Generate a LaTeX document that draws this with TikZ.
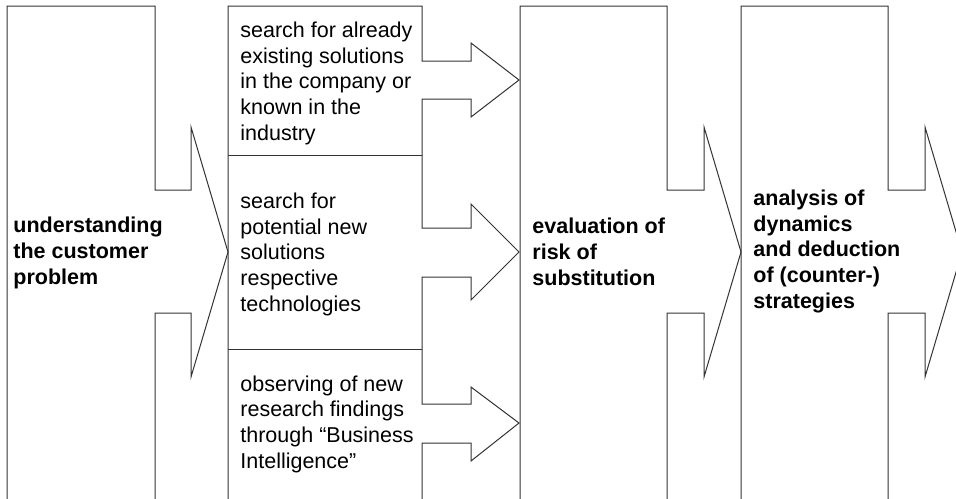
\documentclass[tikz,border=0pt]{standalone}
\usepackage{fontspec}
\setmainfont{Liberation Sans}
\usetikzlibrary{positioning}
\tikzset{
  outline/.style={draw=black!80, line width=0.5pt, line join=miter},
  steptext/.style={anchor=base west, align=left, inner sep=0pt,
    font=\fontsize{10.75pt}{12.8pt}\selectfont},
  headtext/.style={anchor=base west, align=left, inner sep=0pt,
    font=\fontsize{10.75pt}{12.8pt}\selectfont\bfseries}
}

\begin{document}
\begin{tikzpicture}[x=0.5pt, y=-0.5pt]
  \useasboundingbox (0,0) rectangle (956,498);
  \fill[white] (0,0) rectangle (956,498);
  \clip (0,0) rectangle (956,498);

  % Customer problem block
  \draw[outline] (7,510) -- (7,6) -- (155,6) -- (155,190) -- (191,190) -- (191,127)
    -- (228,252) -- (191,377) -- (191,313) -- (155,313) -- (155,510);
  \node[headtext] (problem) at (13,284) {understanding\\the customer\\problem};

  % Search column with three small arrows
  \draw[outline] (228,510) -- (228,6) -- (422,6) -- (422,61)
    -- (471,61) -- (471,43) -- (519,80) -- (471,117) -- (471,99) -- (422,99)
    -- (422,228) -- (471,228) -- (471,204) -- (519,252) -- (471,300) -- (471,277) -- (422,277)
    -- (422,404) -- (471,404) -- (471,387) -- (519,423) -- (471,461) -- (471,443) -- (422,443)
    -- (422,510);
  \draw[outline] (228,155) -- (422,155);
  \draw[outline] (228,349) -- (422,349);
  \node[steptext] (existing) at (240,140)
    {search for already\\existing solutions\\in the company or\\known in the\\industry};
  \node[steptext] (potential) at (240,311)
    {search for\\potential new\\solutions\\respective\\technologies};
  \node[steptext] (research) at (240,468)
    {observing of new\\research findings\\through “Business\\Intelligence”};

  % Evaluation block
  \draw[outline] (520,510) -- (520,6) -- (667,6) -- (667,190) -- (704,190) -- (704,127)
    -- (741,252) -- (704,377) -- (704,313) -- (667,313) -- (667,510);
  \node[headtext] (risk) at (532,285) {evaluation of\\risk of\\substitution};

  % Analysis block
  \draw[outline] (741,510) -- (741,6) -- (888,6) -- (888,190) -- (925,190) -- (925,127)
    -- (962,252) -- (925,377) -- (925,313) -- (888,313) -- (888,510);
  \node[headtext] (dynamics) at (753,308)
    {analysis of\\dynamics\\and deduction\\of (counter-)\\strategies};
\end{tikzpicture}
\end{document}
